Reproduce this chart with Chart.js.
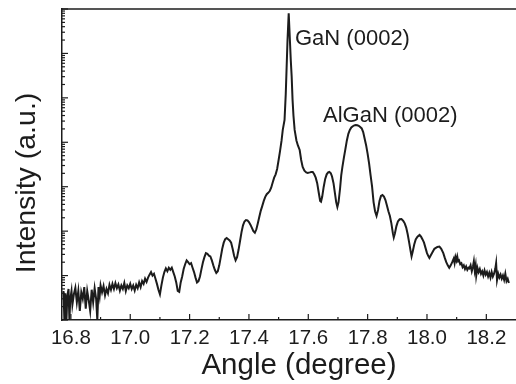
<!DOCTYPE html>
<html><head><meta charset="utf-8">
<script src="https://cdn.jsdelivr.net/npm/chart.js@4/dist/chart.umd.min.js"></script>
<style>html,body{margin:0;padding:0;background:#fff}#wrap{width:516px;height:384px;position:relative}</style>
</head><body><div id="wrap"><canvas id="c" width="516" height="384"></canvas></div>
<script>
// Angle (degree) of each measured point
const angles = [
16.775,16.778,16.781,16.785,16.788,16.792,16.795,16.798,16.802,16.805,16.81,16.815,16.82,16.825,16.83,16.835,16.84,16.845,16.85,16.855,16.86,16.865,16.87,16.875,16.88,16.885,16.889,16.893,16.897,16.9,16.905,16.91,16.915,16.92,16.925,16.93,16.935,16.94,16.945,16.95,16.955,16.96,16.965,16.97,16.975,16.98,16.985,16.99,16.995,
17.0,17.005,17.01,17.015,17.02,17.025,17.03,17.035,17.04,17.045,17.05,17.055,17.06,17.065,17.07,17.075,17.08,17.085,17.09,17.095,17.1,17.105,17.11,17.115,17.12,17.125,17.13,17.135,17.14,17.145,17.15,17.155,17.16,17.165,17.17,17.175,17.18,17.185,17.19,17.195,17.2,17.205,17.21,17.215,17.22,17.225,17.23,17.235,17.24,17.245,17.25,17.255,17.26,17.265,17.27,17.275,17.28,17.285,17.29,17.295,17.3,17.305,17.31,17.315,17.32,17.325,17.33,17.335,17.34,17.345,17.35,17.355,17.36,17.365,17.37,17.375,17.38,17.385,17.39,17.395,17.4,17.405,17.41,17.415,17.42,17.425,17.43,17.435,17.44,17.445,17.45,17.455,17.46,17.465,17.47,17.475,17.48,17.485,17.49,17.495,17.5,17.505,
17.51,17.514,17.52,17.524,17.527,17.53,17.534,17.538,17.541,17.544,17.547,17.55,17.554,17.56,17.565,17.571,17.576,17.581,17.587,17.593,17.598,17.605,17.61,17.615,17.62,17.625,17.63,17.635,17.64,17.643,17.647,17.652,17.657,17.662,17.667,17.671,17.676,17.68,17.685,17.69,17.694,17.698,17.702,17.707,17.711,17.715,17.72,17.725,17.73,17.735,17.74,17.745,17.75,17.755,17.76,17.765,17.77,17.775,17.78,17.785,17.79,17.795,17.8,17.805,17.81,17.815,17.82,17.825,17.83,17.835,17.84,17.845,17.85,17.855,17.86,17.865,17.87,17.875,17.88,17.885,17.888,17.892,17.897,17.902,17.908,17.914,17.92,17.925,17.93,17.935,17.94,17.945,17.948,17.952,17.957,17.962,17.968,17.975,17.98,17.985,17.99,17.995,18.0,18.005,18.008,18.012,18.018,18.025,18.03,18.035,18.042,18.048,18.055,18.06,18.065,18.07,18.075,18.08,18.085,18.09,18.093,18.096,18.099,18.102,18.105,18.108,18.112,18.116,18.12,18.124,18.128,18.132,18.136,18.14,18.143,18.147,18.151,18.155,18.158,18.161,18.164,18.166,18.17,18.174,18.178,18.182,18.186,18.19,18.194,18.198,18.202,18.206,18.21,18.214,18.218,18.222,18.226,18.23,18.233,18.236,18.24,18.244,18.248,18.252,18.256,18.26,18.264,18.268,18.272,18.276
];
// Intensity (a.u.) at each angle
const intensity = [
4.5,1,4,1,3.5,5,1,3,4.5,2.2,3.8,5.3,2.5,4.5,1.6,4.2,3,5.5,1.8,4.5,2.8,1.6,4.8,2.5,5.2,3,1,5.5,3.5,6,4.2,5.8,3.6,5,4,6.2,4.8,6.5,5,6.8,5.2,6.3,4.6,6,5,6.8,4.5,6,5.2,
6.5,5,6,4.6,6.2,5.2,7,5.5,7.5,6.5,8.5,7.2,9,10.5,12,10,11,8.5,6.5,4.8,3.8,6,9,12,14.5,12.5,15,13.5,15,12,9.5,7,4.5,4.3,7,9.5,14,18,22,20,18,19,15,12,9,7,7.5,9.5,14,20,26,32,31,28,27,22,17,13.5,11.5,12.5,17,26,40,55,66,70,66,62,55,40,28,22,26,38,60,95,135,165,178,175,160,140,118,100,92,110,150,210,290,370,480,590,680,730,800,950,1250,1600,1900,2500,4000,6500,
11000,19000,32000,120000,490000,2000000,8000000,2000000,700000,300000,90000,40000,19000,11000,8500,6700,4000,2800,2300,2100,2050,2100,2150,2140,1900,1600,1200,750,480,460,600,1000,1500,1900,2100,2150,2000,1700,1200,700,450,350,450,900,1800,2800,4500,7000,11000,15500,19000,21500,23000,24000,24500,24200,23500,22000,20500,17000,12000,8500,5500,3300,1800,1000,450,280,220,300,480,620,650,600,500,380,280,220,150,90,72,90,130,165,185,188,170,150,120,85,55,35,27,35,50,65,75,82,75,65,55,42,32,27,25,28,33,40,42,44,45,40,32,25,20,17,15,17,20,24,19,26,22,27,21,22,18,19,15.5,17,14,16,13.5,15,14.5,17,12.5,16,21,13,17,10,15,12,14,11,12.5,10,13,10.5,12,9.5,11.5,9,12,9.5,11,14,19,7.9,11,9,10.5,8.5,10,8,11,7.5,8.5,6.8
];
const xMajorTicks = [16.8,17.0,17.2,17.4,17.6,17.8,18.0,18.2];
const xMinorTicks = [16.9,17.1,17.3,17.5,17.7,17.9,18.1,18.3];
const xTitle = 'Angle (degree)';
const yTitle = 'Intensity (a.u.)';
const peakLabels = [
  {text:'GaN (0002)'},
  {text:'AlGaN (0002)'}
];

const INK = '#1c1c1c';
const FONT = '"Liberation Sans", Arial, sans-serif';

const points = angles.map((a,i)=>({x:a, y:intensity[i]}));

const decoPlugin = {
  id:'deco',
  afterDraw(chart){
    const ctx = chart.ctx, a = chart.chartArea;
    const xs = chart.scales.x, ys = chart.scales.y;
    ctx.save();
    ctx.strokeStyle = INK; ctx.lineWidth = 1.5;
    // top frame line
    ctx.beginPath(); ctx.moveTo(a.left, a.top); ctx.lineTo(a.right, a.top); ctx.stroke();
    // x ticks (inward)
    ctx.lineWidth = 1.2;
    xMajorTicks.forEach(v=>{const p=xs.getPixelForValue(v); ctx.beginPath(); ctx.moveTo(p,a.bottom); ctx.lineTo(p,a.bottom-6); ctx.stroke();});
    xMinorTicks.forEach(v=>{const p=xs.getPixelForValue(v); if(p<a.right){ctx.beginPath(); ctx.moveTo(p,a.bottom); ctx.lineTo(p,a.bottom-3); ctx.stroke();}});
    // y ticks (log, inward)
    for(let d=0; d<=7; d++){
      const base = Math.pow(10,d);
      const p = ys.getPixelForValue(base);
      ctx.beginPath(); ctx.moveTo(a.left,p); ctx.lineTo(a.left+6,p); ctx.stroke();
      if(d<7){
        for(let k=2;k<=9;k++){
          const q = ys.getPixelForValue(k*base);
          ctx.beginPath(); ctx.moveTo(a.left,q); ctx.lineTo(a.left+3,q); ctx.stroke();
        }
      }
    }
    // titles
    ctx.fillStyle = INK;
    ctx.font = '29.5px ' + FONT;
    ctx.textAlign = 'center'; ctx.textBaseline = 'alphabetic';
    ctx.fillText(xTitle, 299, 374);
    ctx.save();
    ctx.translate(35, 183); ctx.rotate(-Math.PI/2);
    ctx.font = '28.5px ' + FONT;
    ctx.fillText(yTitle, 0, 0);
    ctx.restore();
    // peak labels
    ctx.font = '22px ' + FONT; ctx.textAlign = 'left';
    ctx.fillText(peakLabels[0].text, 295, 45);
    ctx.fillText(peakLabels[1].text, 323, 122);
    ctx.restore();
  }
};

new Chart(document.getElementById('c'), {
  type:'line',
  data:{datasets:[{data:points, borderColor:INK, borderWidth:2, pointRadius:0, tension:0, fill:false}]},
  options:{
    responsive:false, animation:false, devicePixelRatio:1,
    layout:{padding:{top:9,right:0,left:0,bottom:0}},
    plugins:{legend:{display:false}, tooltip:{enabled:false}},
    scales:{
      x:{type:'linear', min:16.77, max:18.30,
        afterFit(s){ s.height = 64; },
        afterBuildTicks(s){ s.ticks = xMajorTicks.map(v=>({value:v})); },
        grid:{display:false, drawTicks:false},
        border:{display:true, color:INK, width:1.5},
        ticks:{autoSkip:false, maxRotation:0, padding:6, color:INK,
          font:{family:FONT, size:20.5},
          callback:(v)=>Number(v).toFixed(1)}
      },
      y:{type:'logarithmic', min:1, max:1e7,
        afterFit(s){ s.width = 62; },
        grid:{display:false, drawTicks:false},
        border:{display:true, color:INK, width:1.5},
        ticks:{display:false}
      }
    }
  },
  plugins:[decoPlugin]
});
</script></body></html>
